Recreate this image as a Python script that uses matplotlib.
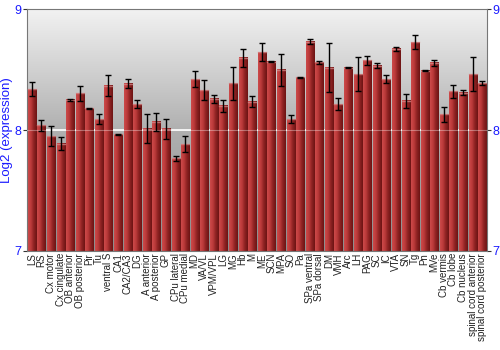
import numpy as np
import matplotlib
matplotlib.use("Agg")
from matplotlib import pyplot as plt
from matplotlib.colors import LinearSegmentedColormap

plt.rcParams['font.family'] = ['Liberation Sans', 'DejaVu Sans']

# regions, mean log2 expression and error
regions = ["LS", "RS", "Cx motor", "Cx cingulate", "OB anterior", "OB posterior",
           "Pir", "Tu", "ventral S", "CA1", "CA2/CA3", "DG", "A anterior",
           "A posterior", "GP", "CPu lateral", "CPu medial", "MD", "VA/VL",
           "VPM/VPL", "LG", "MG", "Hb", "M", "ME", "SCN", "MPA", "SO", "Pa",
           "SPa ventral", "SPa dorsal", "DM", "VMH", "Arc", "LH", "PAG", "SC",
           "IC", "VTA", "SN", "Tg", "Pn", "MVe", "Cb vermis", "Cb lobe",
           "Cb nucleus", "spinal cord anterior", "spinal cord posterior"]
values = [8.337, 8.039, 7.948, 7.887, 8.249, 8.304, 8.180, 8.091, 8.367, 7.964,
          8.384, 8.215, 8.011, 8.069, 8.011, 7.765, 7.881, 8.420, 8.331, 8.257,
          8.202, 8.387, 8.597, 8.235, 8.644, 8.564, 8.497, 8.091, 8.436, 8.732,
          8.561, 8.517, 8.215, 8.514, 8.461, 8.575, 8.533, 8.420, 8.671, 8.243,
          8.727, 8.492, 8.555, 8.130, 8.320, 8.309, 8.461, 8.387]
errors = [0.057, 0.047, 0.084, 0.052, 0.011, 0.062, 0.004, 0.043, 0.087, 0.003,
          0.039, 0.030, 0.122, 0.075, 0.083, 0.019, 0.066, 0.064, 0.084, 0.032,
          0.050, 0.137, 0.077, 0.044, 0.072, 0.003, 0.130, 0.037, 0.003, 0.017,
          0.011, 0.206, 0.051, 0.004, 0.142, 0.041, 0.019, 0.035, 0.017, 0.057,
          0.059, 0.003, 0.026, 0.062, 0.054, 0.019, 0.141, 0.018]
yticks = [7, 8, 9]

blue = "#1a1aff"
fig = plt.figure(figsize=(5, 3.5), dpi=100)
ax = fig.add_axes([0.054, 0.283, 0.920, 0.691])

x = np.arange(len(regions))
ax.set_xlim(-0.5, len(regions) - 0.5)
ax.set_ylim(7, 9)

# gray gradient background, light at the top
bg = LinearSegmentedColormap.from_list("bg", ["#f2f2f2", "#b0b0b0", "#8c8c8c"])
ax.imshow(np.linspace(0, 1, 256).reshape(-1, 1), cmap=bg, aspect="auto",
          extent=(-0.5, len(regions) - 0.5, 7, 9), zorder=0)
ax.axhline(8, color="white", lw=1.2, zorder=1)

bars = ax.bar(x, np.array(values) - 7, bottom=7, width=0.84,
              color="#b03030", edgecolor="none", zorder=2)

# horizontal shading on each bar
shade = LinearSegmentedColormap.from_list("bar", ["#cc4a4a", "#bb3a3a", "#8c2222", "#6e1414"])
for b in bars:
    x0, w, h = b.get_x(), b.get_width(), b.get_height()
    ax.imshow(np.linspace(0, 1, 32).reshape(1, -1), cmap=shade, aspect="auto",
              extent=(x0, x0 + w, 7, 7 + h), zorder=2)
    ax.plot([x0, x0 + w], [7 + h, 7 + h], color="#d89090", lw=1, alpha=0.7, zorder=3)

ax.axhline(8, color="white", lw=0.8, alpha=0.35, zorder=3)
ax.errorbar(x, values, yerr=errors, fmt="none", ecolor="black",
            elinewidth=1, capsize=2, capthick=1, zorder=4)

ax.set_xticks(x)
ax.set_xticklabels(regions, rotation=90, fontsize=7, color="#222222")
ax.tick_params(axis="x", length=0, pad=1.5)
ax.set_yticks(yticks)
ax.tick_params(axis="y", colors="#333333", labelcolor=blue, labelsize=9,
               length=3, pad=1, right=True, labelright=True)
ax.set_ylabel("Log2 (expression)", color=blue, fontsize=9.5, labelpad=1)
for s in ax.spines.values():
    s.set_color("#777777")

fig.savefig("out.png", dpi=100)
